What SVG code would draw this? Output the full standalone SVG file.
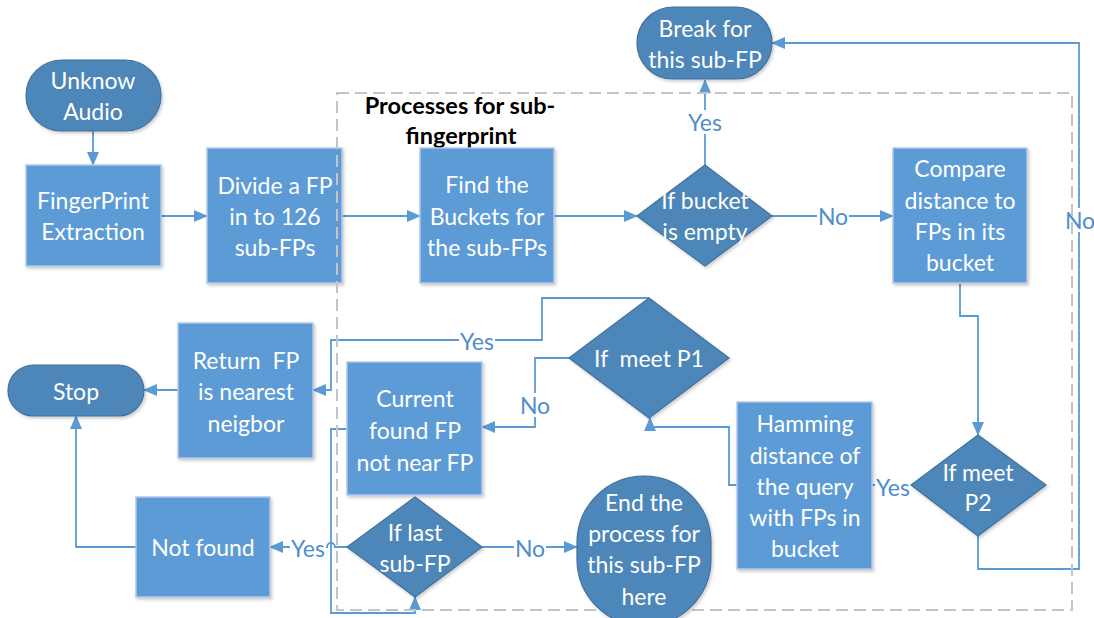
<svg xmlns="http://www.w3.org/2000/svg" width="1094" height="618" viewBox="0 0 1094 618">
  <style>
    .proc { fill: #5b9bd5; stroke: #b4c7e7; stroke-width: 1.5; filter: url(#shadow); }
    .term { fill: #4e86b9; stroke: #41719c; stroke-width: 1.2; filter: url(#shadow); }
    .txt { font-family: Lato, "Liberation Sans", sans-serif; font-size: 23px; fill: #ffffff; text-anchor: middle; dominant-baseline: central; }
    .lbl { font-family: Lato, "Liberation Sans", sans-serif; font-size: 23px; fill: #4f8dcc; text-anchor: middle; dominant-baseline: central; }
    .lblbg { fill: #ffffff; }
    .conn { fill: none; stroke: #5b9bd5; stroke-width: 1.8; }
    .arr { marker-end: url(#ah); }
    .frame { fill: none; stroke: #c4c4c4; stroke-width: 2; stroke-dasharray: 12 6; }
    .title { font-family: Lato, "Liberation Sans", sans-serif; font-size: 23.5px; font-weight: bold; fill: #000000; text-anchor: middle; dominant-baseline: central; }
  </style>
  <defs>
    <marker id="ah" markerUnits="userSpaceOnUse" markerWidth="14" markerHeight="12" refX="13" refY="6" orient="auto">
      <path d="M0,0 L14,6 L0,12 Z" fill="#5b9bd5"/>
    </marker>
    <filter id="shadow" x="-10%" y="-10%" width="130%" height="130%">
      <feDropShadow dx="1.5" dy="2" stdDeviation="1.5" flood-color="#000000" flood-opacity="0.2"/>
    </filter>
  </defs>

  <rect width="1094" height="618" fill="#ffffff"/>

  <!-- connectors -->
  <g id="connectors">
    <path class="conn arr" d="M93,131 V165"/>
    <path class="conn arr" d="M161,216 H207"/>
    <path class="conn arr" d="M342,216 H420"/>
    <path class="conn arr" d="M554,216 H637"/>
    <path class="conn arr" d="M705,165 V80"/>
    <path class="conn arr" d="M772,216 H893"/>
    <path class="conn arr" d="M960,283 V316 H978 V435"/>
    <path class="conn arr" d="M978,536 V569 H1079 V43 H772"/>
    <path class="conn" d="M911,485 H872"/>
    <path class="conn arr" d="M737,485 H729 V427 H650 V418"/>
    <path class="conn arr" d="M649,298 H542 V340 H331 V390 H313"/>
    <path class="conn arr" d="M569,358 H535 V427 H482"/>
    <path class="conn arr" d="M347,429 H331 V613 H415 V597"/>
    <path class="conn arr" d="M347,547 H335 A4,4 0 0 0 327,547 H270"/>
    <path class="conn arr" d="M136,547 H76 V416"/>
    <path class="conn arr" d="M178,390 H144"/>
    <path class="conn arr" d="M482,547 H577"/>
  </g>

  <!-- connector labels -->
  <g id="labels">
    <rect class="lblbg" x="687" y="110" width="36" height="24"/>
    <text class="lbl" x="705" y="122">Yes</text>
    <rect class="lblbg" x="817" y="204" width="32" height="24"/>
    <text class="lbl" x="833" y="216">No</text>
    <rect class="lblbg" x="1064" y="208" width="32" height="24"/>
    <text class="lbl" x="1080" y="220">No</text>
    <rect class="lblbg" x="875" y="475" width="36" height="24"/>
    <text class="lbl" x="893" y="487">Yes</text>
    <rect class="lblbg" x="459" y="329" width="36" height="24"/>
    <text class="lbl" x="477" y="341">Yes</text>
    <rect class="lblbg" x="519" y="393" width="32" height="24"/>
    <text class="lbl" x="535" y="405">No</text>
    <rect class="lblbg" x="290" y="536" width="36" height="24"/>
    <text class="lbl" x="308" y="548">Yes</text>
    <rect class="lblbg" x="514" y="536" width="32" height="24"/>
    <text class="lbl" x="530" y="548">No</text>
  </g>

  <g id="unknow-audio">
    <rect class="term" x="26" y="60" width="135" height="71" rx="35.5"/>
    <text class="txt" x="93" y="80">Unknow</text>
    <text class="txt" x="93" y="111">Audio</text>
  </g>

  <g id="fingerprint-extraction">
    <rect class="proc" x="26" y="165" width="135" height="101"/>
    <text class="txt" x="93" y="200">FingerPrint</text>
    <text class="txt" x="93" y="231">Extraction</text>
  </g>

  <g id="divide">
    <rect class="proc" x="207" y="148" width="135" height="135"/>
    <text class="txt" x="275" y="185">Divide a FP</text>
    <text class="txt" x="275" y="216">in to 126</text>
    <text class="txt" x="275" y="247">sub-FPs</text>
  </g>

  <!-- sub-fingerprint process frame -->
  <g id="process-frame">
    <rect class="frame" x="337" y="93" width="735" height="517"/>
    <text class="title" x="460" y="105">Processes for sub-</text>
    <text class="title" x="461" y="135">fingerprint</text>
  </g>

  <g id="find-buckets">
    <rect class="proc" x="420" y="148" width="134" height="135"/>
    <text class="txt" x="487" y="184">Find the</text>
    <text class="txt" x="487" y="216">Buckets for</text>
    <text class="txt" x="487" y="247">the sub-FPs</text>
  </g>

  <g id="if-bucket-empty">
    <polygon class="term" points="705,165 772,216 705,266 637,216"/>
    <text class="txt" x="705" y="200">If bucket</text>
    <text class="txt" x="705" y="231">is empty</text>
  </g>

  <g id="break-sub-fp">
    <rect class="term" x="637" y="7" width="135" height="72" rx="36"/>
    <text class="txt" x="705" y="28">Break for</text>
    <text class="txt" x="705" y="59">this sub-FP</text>
  </g>

  <g id="compare-distance">
    <rect class="proc" x="893" y="148" width="134" height="135"/>
    <text class="txt" x="960" y="168">Compare</text>
    <text class="txt" x="960" y="200">distance to</text>
    <text class="txt" x="960" y="231">FPs in its</text>
    <text class="txt" x="960" y="262">bucket</text>
  </g>

  <g id="if-meet-p2">
    <polygon class="term" points="978,435 1046,485 978,536 911,485"/>
    <text class="txt" x="978" y="472">If meet</text>
    <text class="txt" x="978" y="502">P2</text>
  </g>

  <g id="hamming">
    <rect class="proc" x="737" y="402" width="135" height="167"/>
    <text class="txt" x="805" y="423">Hamming</text>
    <text class="txt" x="805" y="455">distance of</text>
    <text class="txt" x="805" y="486">the query</text>
    <text class="txt" x="805" y="517">with FPs in</text>
    <text class="txt" x="805" y="548">bucket</text>
  </g>

  <g id="if-meet-p1">
    <polygon class="term" points="649,298 729,358 649,418 569,358"/>
    <text class="txt" x="649" y="358" xml:space="preserve">If  meet P1</text>
  </g>

  <g id="current-found">
    <rect class="proc" x="347" y="362" width="135" height="133"/>
    <text class="txt" x="415" y="398">Current</text>
    <text class="txt" x="415" y="430">found FP</text>
    <text class="txt" x="415" y="462">not near FP</text>
  </g>

  <g id="return-fp">
    <rect class="proc" x="178" y="323" width="135" height="135"/>
    <text class="txt" x="246" y="360" xml:space="preserve">Return  FP</text>
    <text class="txt" x="246" y="391">is nearest</text>
    <text class="txt" x="246" y="423">neigbor</text>
  </g>

  <g id="stop">
    <rect class="term" x="8" y="365" width="136" height="51" rx="25.5"/>
    <text class="txt" x="76" y="391">Stop</text>
  </g>

  <g id="if-last-sub-fp">
    <polygon class="term" points="415,497 482,547 415,597 347,547"/>
    <text class="txt" x="415" y="532">If last</text>
    <text class="txt" x="415" y="563">sub-FP</text>
  </g>

  <g id="not-found">
    <rect class="proc" x="136" y="497" width="134" height="100"/>
    <text class="txt" x="203" y="547">Not found</text>
  </g>

  <g id="end-process">
    <rect class="term" x="577" y="476" width="134" height="150" rx="67"/>
    <text class="txt" x="644" y="502">End the</text>
    <text class="txt" x="644" y="533">process for</text>
    <text class="txt" x="644" y="564">this sub-FP</text>
    <text class="txt" x="644" y="596">here</text>
  </g>
</svg>
